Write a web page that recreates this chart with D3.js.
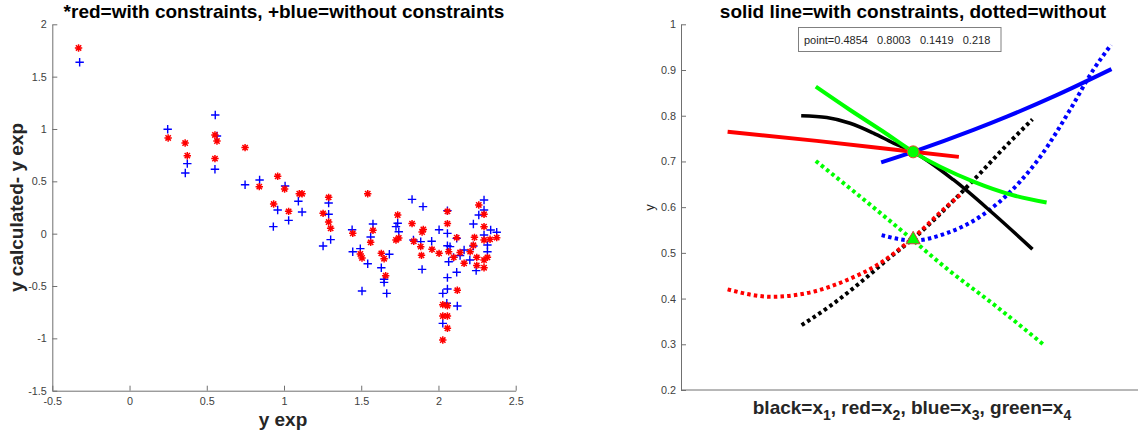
<!DOCTYPE html>
<html>
<head>
<meta charset="utf-8">
<script src="https://cdn.jsdelivr.net/npm/d3@7"></script>
<style>
  body { margin: 0; background: #fff; }
  svg { font-family: "Liberation Sans", Arial, sans-serif; }
  .tick text { fill: #404040; font-size: 10.8px; }
  .domain, .tick line { stroke: #707070; }
</style>
</head>
<body>
<svg id="chart" width="1138" height="431"></svg>
<script>
// left panel: residuals
var redX = [-0.33, 0.25, 0.36, 0.374, 0.553, 0.566, 0.553, 0.748, 0.84, 0.959, 0.933, 1.004, 1.03, 1.099, 1.117,
  1.253, 1.289, 1.289, 1.302, 1.445, 1.542, 1.494, 1.505, 1.561, 1.576, 1.63, 1.648, 1.658, 1.736, 1.725, 1.743,
  1.829, 1.84, 1.885, 1.89, 1.894, 1.902, 1.958, 2.058, 2.058, 2.004, 2.028, 2.028, 2.058, 2.058, 2.058, 2.028,
  2.066, 2.118, 2.122, 2.099, 2.166, 2.205, 2.226, 2.233, 2.248, 2.248, 2.261, 2.295, 2.295, 2.295, 2.295, 2.295,
  2.317, 2.334, 2.377, 2.14]
var redY = [1.774, 0.914, 0.866, 0.745, 0.943, 0.885, 0.717, 0.822, 0.449, 0.548, 0.283, 0.427, 0.213, 0.382, 0.382,
  0.194, 0.347, 0.111, 0.051, 0.003, 0.382, -0.194, -0.232, -0.083, 0.032, -0.188, -0.239, -0.401, 0.178, -0.06, -0.041,
  0.096, -0.073, -0.124, -0.207, 0.016, 0.041, -0.15, 0.213, 0.096, -0.188, -0.678, -0.787, -0.787, -0.688, -0.904, -1.016,
  -0.172, -0.038, -0.541, -0.226, -0.283, -0.172, -0.111, -0.035, -0.226, -0.303, 0.274, 0.185, 0.067, -0.06, -0.325, -0.252,
  -0.226, -0.054, -0.038, -0.18]
var blueX = [-0.323, 0.247, 0.361, 0.374, 0.555, 0.566, 0.553, 0.748, 0.842, 1.007, 0.959, 0.931, 1.03, 1.093, 1.117,
  1.253, 1.289, 1.289, 1.302, 1.441, 1.445, 1.494, 1.505, 1.542, 1.561, 1.576, 1.63, 1.648, 1.648, 1.665, 1.682,
  1.725, 1.736, 1.743, 1.829, 1.9, 1.838, 1.885, 1.894, 1.956, 2.004, 2.058, 2.058, 2.058, 2.066, 2.058, 2.058,
  2.028, 2.054, 2.028, 2.118, 2.097, 2.118, 2.122, 2.166, 2.203, 2.226, 2.226, 2.244, 2.261, 2.295, 2.295, 2.295,
  2.317, 2.317, 2.338, 2.377, 2.14, 2.075]
var blueY = [1.637, 0.997, 0.58, 0.669, 1.134, 0.933, 0.615, 0.468, 0.513, 0.455, 0.226, 0.067, 0.127, 0.309, 0.207,
  -0.118, 0.293, 0.185, -0.057, 0.038, -0.172, -0.143, -0.548, -0.287, -0.032, 0.092, -0.325, -0.436, -0.465, -0.57, -0.197,
  0.067, 0.099, 0.019, 0.328, 0.258, -0.06, -0.076, -0.341, -0.073, 0.038, 0.22, 0.003, -0.115, -0.268, -0.42, -0.529,
  -0.57, -0.665, -0.857, -0.045, -0.226, -0.369, -0.691, -0.156, -0.252, 0.092, -0.118, -0.353, 0.178, 0.322, 0.226, -0.013,
  -0.108, -0.172, 0.035, 0.013, -0.21, -0.124]
var leftXTicks = [-0.5, 0, 0.5, 1, 1.5, 2, 2.5]
var leftXLabels = ['-0.5', '0', '0.5', '1', '1.5', '2', '2.5']
var leftYTicks = [-1.5, -1, -0.5, 0, 0.5, 1, 1.5, 2]
var leftYLabels = ['-1.5', '-1', '-0.5', '0', '0.5', '1', '1.5', '2']

// right panel: response curves, x is the relative position along the (unlabelled) axis
var blackSolid = [[0.263, 0.800], [0.319, 0.796], [0.370, 0.7835], [0.421, 0.762], [0.465, 0.740], [0.508, 0.721],
  [0.596, 0.660], [0.683, 0.586], [0.769, 0.508]]
var redSolid = [[0.102, 0.765], [0.297, 0.745], [0.508, 0.721], [0.608, 0.710]]
var blueSolid = [[0.438, 0.698], [0.508, 0.721], [0.640, 0.769], [0.713, 0.798], [0.822, 0.845], [0.942, 0.902]]
var greenSolid = [[0.295, 0.8635], [0.370, 0.8125], [0.443, 0.765], [0.508, 0.721], [0.640, 0.656], [0.727, 0.626], [0.800, 0.610]]
var blackDotted = [[0.264, 0.342], [0.326, 0.3835], [0.399, 0.4405], [0.457, 0.490], [0.508, 0.531], [0.640, 0.659], [0.713, 0.736], [0.769, 0.792]]
var redDotted = [[0.102, 0.420], [0.198, 0.404], [0.289, 0.415], [0.363, 0.4405], [0.435, 0.477], [0.508, 0.533], [0.581, 0.601], [0.611, 0.627]]
var blueDotted = [[0.439, 0.5387], [0.508, 0.527], [0.581, 0.543], [0.654, 0.579], [0.742, 0.656], [0.786, 0.710], [0.851, 0.8125], [0.902, 0.900], [0.941, 0.955]]
var greenDotted = [[0.295, 0.701], [0.370, 0.641], [0.486, 0.546], [0.581, 0.466], [0.691, 0.382], [0.793, 0.2995]]
var optimum = [0.508, 0.721]
var unconstrained = [0.508, 0.533]
var rightYTicks = [0.2, 0.3, 0.4, 0.5, 0.6, 0.7, 0.8, 0.9, 1]
var rightYLabels = ['0.2', '0.3', '0.4', '0.5', '0.6', '0.7', '0.8', '0.9', '1']
var pointText = 'point=0.4854   0.8003   0.1419   0.218'

var svg = d3.select('#chart')

// ---------- left panel ----------
var xL = d3.scaleLinear().domain([-0.5, 2.5]).range([52.3, 515.7])
var yL = d3.scaleLinear().domain([-1.5, 2]).range([390.7, 24.3])

svg.append('g').attr('transform', 'translate(0,390.7)')
  .call(d3.axisBottom(xL).tickValues(leftXTicks).tickSizeInner(-5).tickSizeOuter(0).tickPadding(7)
    .tickFormat(function(d, i) { return leftXLabels[i] }))
svg.append('g').attr('transform', 'translate(52.3,0)')
  .call(d3.axisLeft(yL).tickValues(leftYTicks).tickSizeInner(-5).tickSizeOuter(0).tickPadding(5.5)
    .tickFormat(function(d, i) { return leftYLabels[i] }))

var r = 3.7, a = r * 0.72
var star = 'M' + -r + ',0L' + r + ',0M0,' + -r + 'L0,' + r +
  'M' + -a + ',' + -a + 'L' + a + ',' + a + 'M' + -a + ',' + a + 'L' + a + ',' + -a
var p = 4.2
var plus = 'M' + -p + ',0L' + p + ',0M0,' + -p + 'L0,' + p

svg.append('g').selectAll('path').data(d3.range(blueX.length)).enter().append('path')
  .attr('d', plus)
  .attr('transform', function(i) { return 'translate(' + xL(blueX[i]) + ',' + yL(blueY[i]) + ')' })
  .attr('stroke', '#0000ff').attr('stroke-width', 1.4).attr('fill', 'none')
svg.append('g').selectAll('path').data(d3.range(redX.length)).enter().append('path')
  .attr('d', star)
  .attr('transform', function(i) { return 'translate(' + xL(redX[i]) + ',' + yL(redY[i]) + ')' })
  .attr('stroke', '#ff0000').attr('stroke-width', 1.5).attr('fill', 'none')

svg.append('text').attr('x', 284).attr('y', 18).attr('text-anchor', 'middle')
  .attr('font-weight', 'bold').attr('font-size', 19).attr('fill', '#000')
  .text('*red=with constraints, +blue=without constraints')
svg.append('text').attr('x', 283).attr('y', 426).attr('text-anchor', 'middle')
  .attr('font-weight', 'bold').attr('font-size', 19).attr('fill', '#262626')
  .text('y exp')
svg.append('text').attr('transform', 'translate(23,207.5) rotate(-90)').attr('text-anchor', 'middle')
  .attr('font-weight', 'bold').attr('font-size', 19).attr('fill', '#262626')
  .text('y calculated- y exp')

// ---------- right panel ----------
var xR = d3.scaleLinear().domain([0, 1]).range([681, 1138])
var yR = d3.scaleLinear().domain([0.2, 1]).range([390, 24.3])

svg.append('line').attr('x1', 681).attr('x2', 1138).attr('y1', 390).attr('y2', 390).attr('stroke', '#707070')
svg.append('g').attr('transform', 'translate(681,0)')
  .call(d3.axisLeft(yR).tickValues(rightYTicks).tickSizeInner(-5).tickSizeOuter(0).tickPadding(5)
    .tickFormat(function(d, i) { return rightYLabels[i] }))

var line = d3.line().x(function(d) { return xR(d[0]) }).y(function(d) { return yR(d[1]) }).curve(d3.curveMonotoneX)

var dotted = [[blackDotted, '#000'], [redDotted, '#ff0000'], [blueDotted, '#0000ff'], [greenDotted, '#00ff00']]
dotted.forEach(function(s) {
  svg.append('path').attr('d', line(s[0])).attr('fill', 'none').attr('stroke', s[1])
    .attr('stroke-width', 4).attr('stroke-dasharray', '3.5,3.2')
})
var solid = [[blackSolid, '#000', 3.5], [blueSolid, '#0000ff', 4], [redSolid, '#ff0000', 4], [greenSolid, '#00ff00', 4]]
solid.forEach(function(s) {
  svg.append('path').attr('d', line(s[0])).attr('fill', 'none').attr('stroke', s[1])
    .attr('stroke-width', s[2]).attr('stroke-linecap', 'butt')
})

svg.append('circle').attr('cx', xR(optimum[0])).attr('cy', yR(optimum[1])).attr('r', 6)
  .attr('fill', '#00ff00').attr('stroke', '#e05030').attr('stroke-width', 1)
var tx = xR(unconstrained[0]), ty = yR(unconstrained[1])
svg.append('path').attr('d', 'M' + tx + ',' + (ty - 6.5) + 'L' + (tx + 7) + ',' + (ty + 6) + 'L' + (tx - 7) + ',' + (ty + 6) + 'Z')
  .attr('fill', '#00ff00').attr('stroke', '#d04040').attr('stroke-width', 1)

svg.append('rect').attr('x', 798.5).attr('y', 27.5).attr('width', 202.5).attr('height', 24)
  .attr('fill', '#fff').attr('stroke', '#808080').attr('stroke-width', 1)
svg.append('text').attr('x', 804).attr('y', 43.5).attr('font-size', 11).attr('fill', '#262626')
  .style('white-space', 'pre').text(pointText)

svg.append('text').attr('x', 913).attr('y', 18).attr('text-anchor', 'middle')
  .attr('font-weight', 'bold').attr('font-size', 19).attr('fill', '#000')
  .text('solid line=with constraints, dotted=without')
svg.append('text').attr('transform', 'translate(654,207.5) rotate(-90)').attr('text-anchor', 'middle')
  .attr('font-size', 13).attr('fill', '#262626').text('y')

// x label with subscripts
var xlab = svg.append('text').attr('x', 912).attr('y', 414).attr('text-anchor', 'middle')
  .attr('font-weight', 'bold').attr('font-size', 19).attr('fill', '#262626')
var parts = [['black=x', '1'], [', red=x', '2'], [', blue=x', '3'], [', green=x', '4']]
parts.forEach(function(pt, i) {
  xlab.append('tspan').attr('dy', i ? -6 : 0).text(pt[0])
  xlab.append('tspan').attr('dy', 6).attr('font-size', 14).text(pt[1])
})
</script>
</body>
</html>
